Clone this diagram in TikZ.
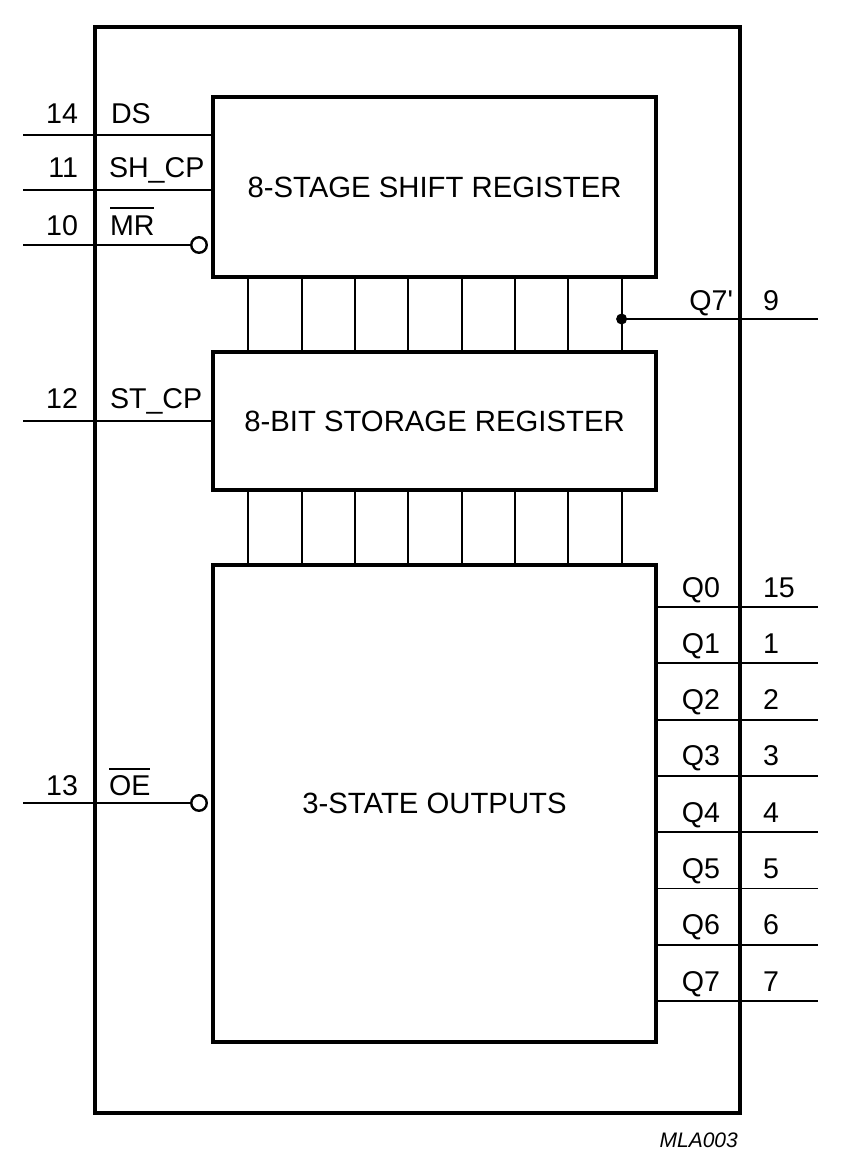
\documentclass[tikz,border=0pt]{standalone}
\usepackage{fontspec}
\setmainfont{Liberation Sans}[Ligatures=TeXOff]
\usetikzlibrary{calc}
\begin{document}
\begin{tikzpicture}[x=1pt,y=-1pt,
  blk/.style={draw, line width=3.5pt, minimum width=443pt, inner sep=0pt, outer sep=0pt, font=\fontsize{29.3}{31}\selectfont},
  pin/.style={line width=1.8pt},
  lbl/.style={inner sep=0pt, outer sep=0pt, font=\fontsize{28.6}{30}\selectfont},
  bub/.style={circle, draw, line width=2.4pt, minimum size=15.5pt, inner sep=0pt, outer sep=0pt},
  bar/.style={line width=1.8pt},
]
\useasboundingbox (0,0) rectangle (844,1163);
% outer package
\node[draw, line width=4pt, minimum width=645pt, minimum height=1086pt, inner sep=0pt, outer sep=0pt] (chip) at (417.5,570) {};
% blocks
\node[blk, minimum height=180pt] (shift) at (434.5,187) {8-STAGE SHIFT REGISTER};
\node[blk, minimum height=138pt] (store) at (434.5,421) {8-BIT STORAGE REGISTER};
\node[blk, minimum height=477pt] (outs) at (434.5,803.5) {3-STATE OUTPUTS};
% parallel buses
\foreach \i in {0,...,7}{
  \draw[pin] ($(shift.south west)+(35.3+53.33*\i,0)$) -- ($(store.north west)+(35.3+53.33*\i,0)$);
  \draw[pin] ($(store.south west)+(35.3+53.33*\i,0)$) -- ($(outs.north west)+(35.3+53.33*\i,0)$);
}
% Q7' serial output
\coordinate (tap) at ($(shift.south west)+(408.6,42)$);
\coordinate (q7send) at (818,319);
\fill (tap) circle (5.5pt);
\draw[pin] (tap) -- (q7send);
\node[lbl, anchor=base east] (lq7s) at (733,310) {Q7'};
\node[lbl, anchor=base west] (n9) at (763,310) {9};
% left pins
\coordinate (dsend) at (23,135);
\coordinate (shend) at (23,190);
\coordinate (mrend) at (23,245);
\coordinate (stend) at (23,421);
\coordinate (oeend) at (23,803);
\node[bub] (mrb) at (199,245) {};
\node[bub] (oeb) at (199,803) {};
\draw[pin] (dsend) -- (dsend -| shift.west);
\draw[pin] (shend) -- (shend -| shift.west);
\draw[pin] (mrend) -- (mrb.west);
\draw[pin] (stend) -- (stend -| store.west);
\draw[pin] (oeend) -- (oeb.west);
\node[lbl, anchor=base east] (n14) at (78,123) {14};
\node[lbl, anchor=base west] (lds) at (111,123) {DS};
\node[lbl, anchor=base east] (n11) at (78,177) {11};
\node[lbl, anchor=base west] (lsh) at (109,177) {SH\_CP};
\node[lbl, anchor=base east] (n10) at (78,235) {10};
\node[lbl, anchor=base west] (lmr) at (110,235) {MR};
\draw[bar] ([yshift=7pt]lmr.north west) -- ([yshift=7pt]lmr.north east);
\node[lbl, anchor=base east] (n12) at (78,408) {12};
\node[lbl, anchor=base west] (lst) at (110,408) {ST\_CP};
\node[lbl, anchor=base east] (n13) at (78,795) {13};
\node[lbl, anchor=base west] (loe) at (109,795) {OE};
\draw[bar] ([yshift=6pt]loe.north west) -- ([yshift=6pt]loe.north east);
% parallel outputs
\foreach \k/\pinno in {0/15,1/1,2/2,3/3,4/4,5/5,6/6,7/7}{
  \coordinate (q\k end) at (818,607+56.3*\k);
  \draw[pin] (q\k end -| outs.east) -- (q\k end);
  \node[lbl, anchor=base east] (lq\k) at (720,597+56.3*\k) {Q\k};
  \node[lbl, anchor=base west] (np\k) at (763,597+56.3*\k) {\pinno};
}
\node[inner sep=0pt, anchor=base east, font=\fontsize{21}{23}\selectfont\itshape] (code) at (738,1147) {MLA003};
\end{tikzpicture}
\end{document}
